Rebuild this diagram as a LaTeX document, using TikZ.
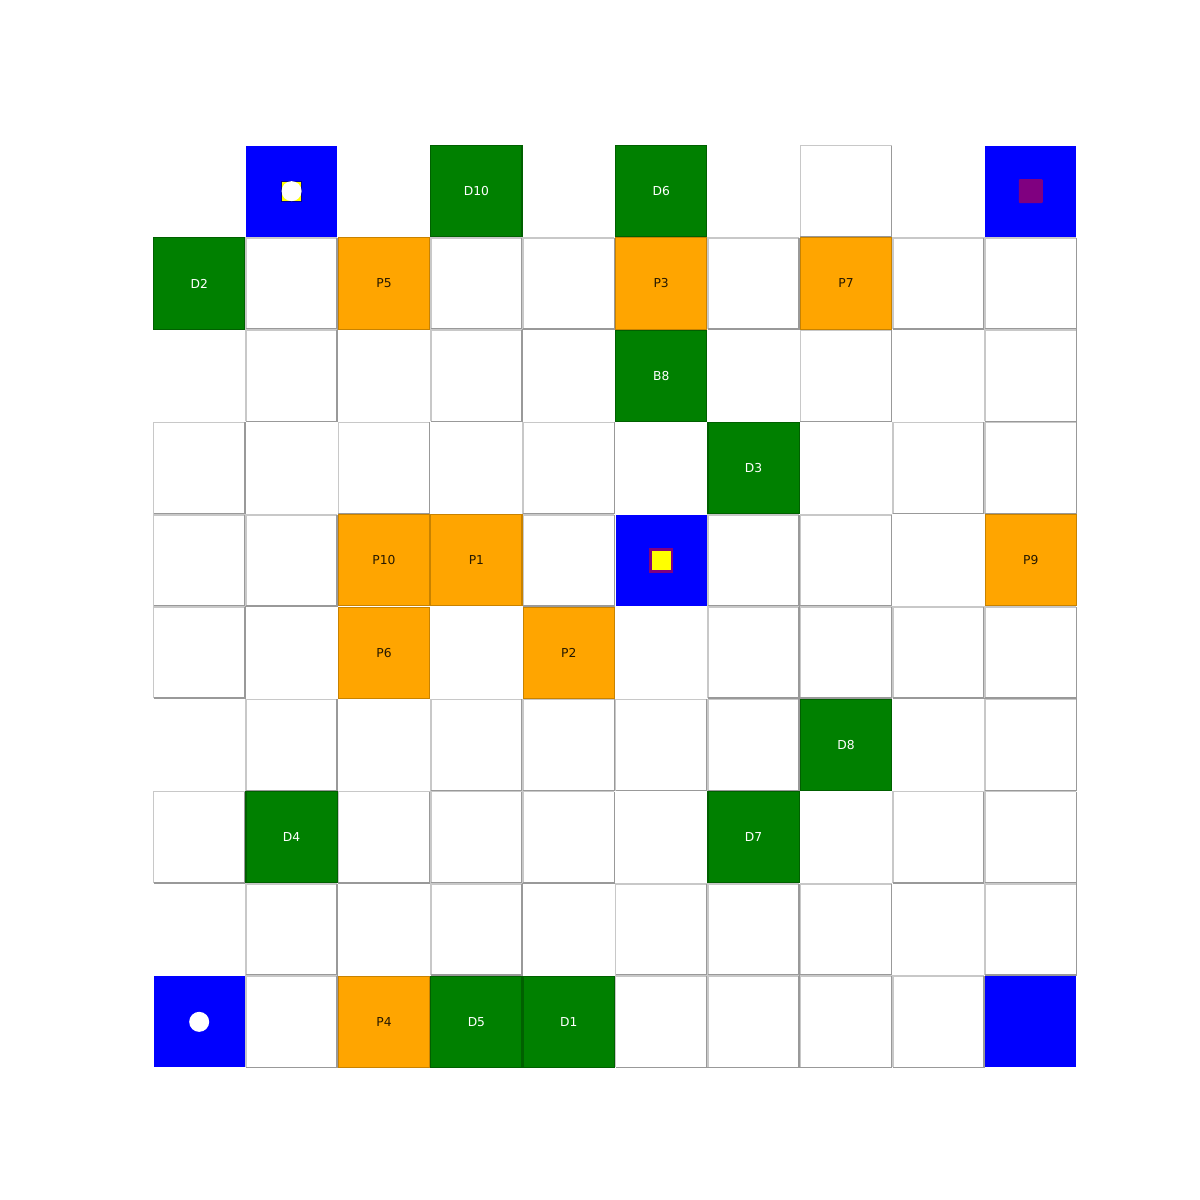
\documentclass[tikz,border=0pt]{standalone}
\usepackage{fontspec}
\setmainfont{DejaVu Sans}
\definecolor{lightb}{HTML}{C8C8C8}
\definecolor{darkb}{HTML}{999999}
\definecolor{dgreen}{HTML}{008000}
\definecolor{dgreenedge}{HTML}{006000}
\definecolor{orng}{HTML}{FFA500}
\definecolor{orngedge}{HTML}{C88200}
\definecolor{blu}{HTML}{0000FF}
\definecolor{purp}{HTML}{800080}
\definecolor{ylw}{HTML}{FFFF00}
\begin{document}
\begin{tikzpicture}[
  cell/.style={minimum size=0.912cm, inner sep=0pt, outer sep=0pt, font=\fontsize{3.5}{4}\selectfont},
  wcell/.style={cell},
  gcell/.style={cell, fill=dgreen, draw=dgreenedge, line width=0.3pt, text=white},
  ocell/.style={cell, fill=orng, draw=orngedge, line width=0.3pt, text=black!85!orng},
  bcell/.style={cell, fill=blu},
  lightedge/.style={draw=lightb, line width=0.45pt},
  darkedge/.style={draw=darkb, line width=0.45pt}
]
\useasboundingbox (0,0) rectangle (12,12);
\fill[white] (0,0) rectangle (12,12);
\newcommand{\cx}[1]{1.53+0.924*(#1+0.5)}
\newcommand{\cy}[1]{12-1.45-0.923*(#1+0.5)}
% white bordered cells: row/col
\foreach \r/\c in {0/7,
  1/1,1/3,1/4,1/6,1/8,1/9,
  2/1,2/3,2/7,2/9,
  3/0,3/2,3/4,3/8,3/9,
  4/0,4/1,4/4,4/6,4/7,
  5/0,5/6,5/7,5/8,5/9,
  6/1,6/3,6/4,6/5,6/6,6/9,
  7/0,7/2,7/3,7/4,7/8,7/9,
  8/1,8/3,8/5,8/6,8/7,8/9,
  9/1,9/5,9/6,9/7,9/8}{
  \node[wcell] (w\r\c) at ({\cx{\c}},{\cy{\r}}) {};
  \draw[lightedge] (w\r\c.south west) -- (w\r\c.north west) -- (w\r\c.north east);
  \draw[darkedge] (w\r\c.north east) -- (w\r\c.south east) -- (w\r\c.south west);
}
% green cells
\foreach \r/\c/\t in {0/3/D10, 0/5/D6, 1/0/D2, 2/5/B8, 3/6/D3, 6/7/D8, 7/1/D4, 7/6/D7, 9/3/D5, 9/4/D1}{
  \node[gcell] (g\r\c) at ({\cx{\c}},{\cy{\r}}) {\t};
}
% orange cells
\foreach \r/\c/\t in {1/2/P5, 1/5/P3, 1/7/P7, 4/2/P10, 4/3/P1, 4/9/P9, 5/2/P6, 5/4/P2, 9/2/P4}{
  \node[ocell] (o\r\c) at ({\cx{\c}},{\cy{\r}}) {\t};
}
% blue cells
\foreach \r/\c in {0/1, 0/9, 4/5, 9/0, 9/9}{
  \node[bcell] (b\r\c) at ({\cx{\c}},{\cy{\r}}) {};
}
% markers
\node[fill=ylw, draw=blue!60!black, line width=0.2pt, minimum size=0.2cm, inner sep=0pt] (m1) at (b01.center) {};
\node[fill=white, circle, minimum size=0.2cm, inner sep=0pt] (m1c) at (b01.center) {};
\node[fill=purp, rounded corners=0.3pt, minimum size=0.24cm, inner sep=0pt] (m2) at (b09.center) {};
\node[fill=ylw, draw=purp, line width=0.8pt, minimum size=0.215cm, inner sep=0pt] (m3) at (b45.center) {};
\node[fill=white, circle, minimum size=0.2cm, inner sep=0pt] (m4) at (b90.center) {};
\end{tikzpicture}
\end{document}
